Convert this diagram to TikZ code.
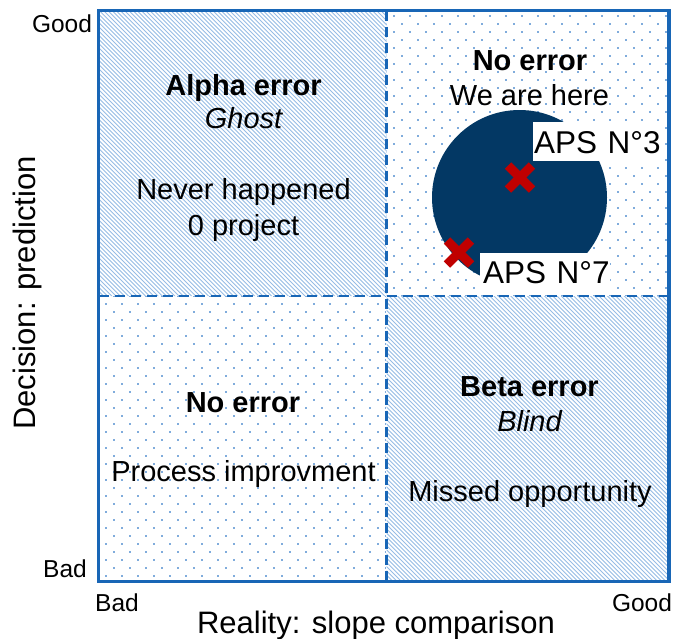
\documentclass[tikz,border=0pt]{standalone}
\usepackage{fontspec}
\setmainfont{Liberation Sans}
\usetikzlibrary{calc}
\definecolor{frameblue}{RGB}{24,102,182}
\definecolor{patblue}{RGB}{150,188,228}
\definecolor{dotblue}{RGB}{128,172,220}
\definecolor{navy}{RGB}{3,56,100}
\definecolor{crossred}{RGB}{192,0,0}
\tikzset{
  body/.style={font=\fontsize{29}{34}\selectfont, anchor=base, inner sep=0pt},
  bodybold/.style={body, font=\fontsize{29}{34}\selectfont\bfseries},
  bodyit/.style={body, font=\fontsize{29}{34}\selectfont\itshape},
  axistitle/.style={font=\fontsize{31}{36}\selectfont, anchor=base, inner sep=0pt},
  endlabel/.style={font=\fontsize{24.5}{30}\selectfont, anchor=base, inner sep=0pt},
  divider/.style={draw=frameblue, line width=2.5pt, dash pattern=on 10pt off 6pt},
  crossmark/.style={draw=crossred, line width=9pt},
  tag/.style={fill=white, font=\fontsize{31.5}{36}\selectfont, anchor=base west, inner sep=0pt}
}
\begin{document}
\begin{tikzpicture}[x=1pt, y=-1pt]
\useasboundingbox (0,0) rectangle (675,638);

% quadrant corners
\coordinate (tl) at (98.5,10.5);
\coordinate (br) at (669,581.5);

% diagonal hatching: upper left and lower right cells
\begin{scope}
  \clip (98.5,10.5) rectangle (386.5,296) (386.5,296) rectangle (669,581.5);
  \foreach \c in {-600,-595.8,...,700}
    \draw[patblue, line width=0.9pt] (\c,0) -- ({\c+650},650);
\end{scope}

% staggered dots: upper right and lower left cells
\begin{scope}
  \clip (386.5,10.5) rectangle (669,296) (98.5,296) rectangle (386.5,581.5);
  \foreach \i in {0,...,35}
    \foreach \j in {0,...,36} {
      \fill[dotblue] ({104.9+16*\i},{14.6+16*\j}) rectangle ++(2.2,2.2);
      \fill[dotblue] ({112.9+16*\i},{22.6+16*\j}) rectangle ++(2.2,2.2);
    }
\end{scope}

% target zone
\fill[navy] (519.5,197.5) circle (87.5);

% labels of the two projects
\node[tag, text depth=8pt, text height=31pt, text width=129pt] (aps3) at (533,153) {\hspace*{1pt}APS N°3};
\node[tag, text depth=9pt, text height=30pt, text width=130pt] (aps7) at (480,283) {\hspace*{3pt}APS N°7};

% red crosses
\coordinate (x3) at (520,177.5);
\coordinate (x7) at (459,252.5);
\foreach \p in {x3,x7} {
  \draw[crossmark] ($(\p)+(-12,-12)$) -- ($(\p)+(12,12)$);
  \draw[crossmark] ($(\p)+(-12,12)$) -- ($(\p)+(12,-12)$);
}

% dashed dividers
\draw[divider] (386.5,10.5) -- (386.5,581.5);
\draw[divider] (98.5,296) -- (669,296);

% frame
\draw[frameblue, line width=3.3pt] (tl) rectangle (br);

% cell texts
\node[bodybold] (alpha) at (243.5,95) {Alpha error};
\node[bodyit] (ghost) at (243.5,128) {Ghost};
\node[body] (never) at (243.5,199) {Never happened};
\node[body] (zero) at (243.5,235) {0 project};

\node[bodybold] (noerr1) at (530,70) {No error};
\node[body] (here) at (529.5,105) {We are here};

\node[bodybold] (noerr2) at (243,412) {No error};
\node[body] (process) at (243.5,481.5) {Process improvment};

\node[bodybold] (beta) at (529.5,396.5) {Beta error};
\node[bodyit] (blind) at (529.5,431.5) {Blind};
\node[body] (missed) at (530,501.5) {Missed opportunity};

% axis labels
\node[endlabel] (ygood) at (62,32) {Good};
\node[endlabel] (ybad) at (65,577) {Bad};
\node[endlabel] (xbad) at (117,611) {Bad};
\node[endlabel] (xgood) at (642,611) {Good};
\node[axistitle] (xtitle) at (376,633) {Reality: slope comparison};
\node[axistitle, rotate=90] (ytitle) at (35,293) {Decision: prediction};
\end{tikzpicture}
\end{document}
